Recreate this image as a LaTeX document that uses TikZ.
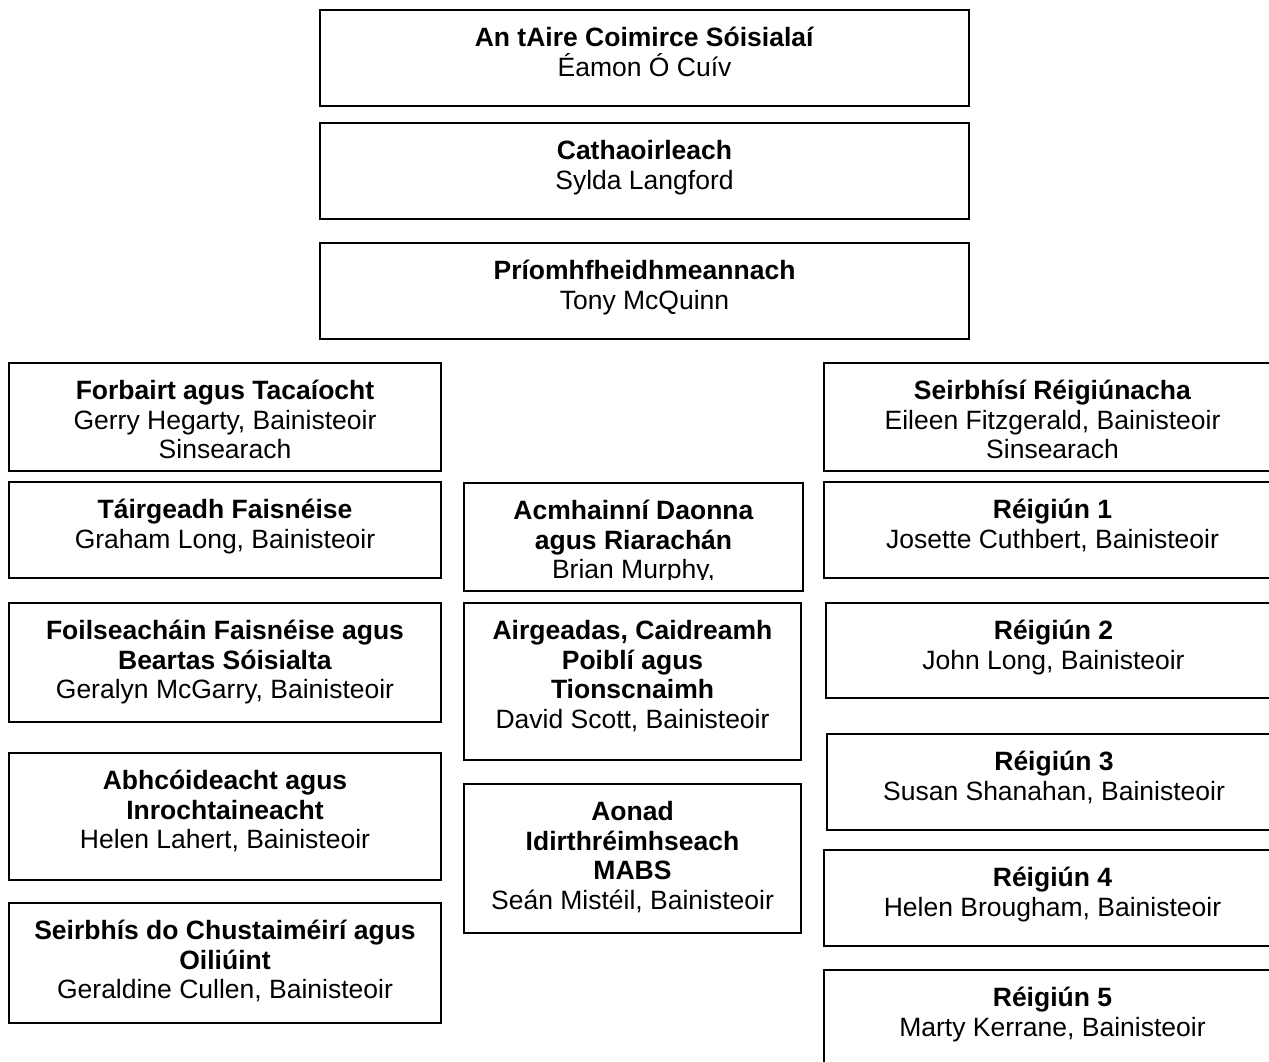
\documentclass[tikz,border=0pt]{standalone}
\usepackage{fontspec}
\setmainfont{Liberation Sans}
\newcommand{\otxfont}{\fontsize{26.5}{29.7}\selectfont\lineskiplimit=-100pt\relax\lineskip=0pt\relax}
\tikzset{
  obx/.style={draw, line width=1.6pt, inner sep=0pt, outer sep=0pt, rectangle},
  otx/.style={inner sep=0pt, outer sep=0pt, anchor=north, align=center,
    font=\otxfont}
}
\newcommand{\obox}[6]{%
  \node[obx, minimum width={(#4-#2)*1pt}, minimum height={(#5-#3)*1pt}] (#1) at ({(#2+#4)/2},{(#3+#5)/2}) {};
  \node[otx] (#1-t) at ([yshift=-15.7pt]#1.north) {#6};
}
\begin{document}
\begin{tikzpicture}[x=1pt,y=-1pt]
\fill[white] (0,0) rectangle (1269,1061);
\useasboundingbox (0,0) rectangle (1269,1061);
\clip (0,0) rectangle (1269,1061);
% top chain
\obox{aire}{320}{10}{969}{106}{\strut\textbf{An tAire Coimirce Sóisialaí}\\Éamon Ó Cuív}
\obox{cath}{320}{123}{969}{219}{\strut\textbf{Cathaoirleach}\\Sylda Langford}
\obox{prio}{320}{243}{969}{339}{\strut\textbf{Príomhfheidhmeannach}\\Tony McQuinn}
% left column
\obox{forb}{9}{363}{441}{471}{\strut\textbf{Forbairt agus Tacaíocht}\\Gerry Hegarty, Bainisteoir\\Sinsearach}
\obox{tair}{9}{482}{441}{578}{\strut\textbf{Táirgeadh Faisnéise}\\Graham Long, Bainisteoir}
\obox{foil}{9}{603}{441}{722}{\strut\textbf{Foilseacháin Faisnéise agus}\\\textbf{Beartas Sóisialta}\\Geralyn McGarry, Bainisteoir}
\obox{abhc}{9}{753}{441}{880}{\strut\textbf{Abhcóideacht agus}\\\textbf{Inrochtaineacht}\\Helen Lahert, Bainisteoir}
\obox{seir}{9}{903}{441}{1023}{\strut\textbf{Seirbhís do Chustaiméirí agus}\\\textbf{Oiliúint}\\Geraldine Cullen, Bainisteoir}
% middle column
\node[obx, minimum width=339pt, minimum height=108pt] (acmh) at ({(464+803)/2},{(483+591)/2}) {};
\begin{scope}
\clip (466,485) rectangle (801,579);
\node[otx] (acmh-t) at ([yshift=-15.7pt]acmh.north) {\strut\textbf{Acmhainní Daonna}\\\textbf{agus Riarachán}\\Brian Murphy,};
\end{scope}
\obox{airg}{464}{603}{801}{760}{\strut\textbf{Airgeadas, Caidreamh}\\\textbf{Poiblí agus}\\\textbf{Tionscnaimh}\\David Scott, Bainisteoir}
\obox{aona}{464}{784}{801}{933}{\strut\textbf{Aonad}\\\textbf{Idirthréimhseach}\\\textbf{MABS}\\Seán Mistéil, Bainisteoir}
% right column
\obox{reig}{824}{363}{1281}{471}{\strut\textbf{Seirbhísí Réigiúnacha}\\Eileen Fitzgerald, Bainisteoir\\Sinsearach}
\obox{r1}{824}{482}{1281}{578}{\strut\textbf{Réigiún 1}\\Josette Cuthbert, Bainisteoir}
\obox{r2}{826}{603}{1281}{698}{\strut\textbf{Réigiún 2}\\John Long, Bainisteoir}
\obox{r3}{827}{734}{1281}{830}{\strut\textbf{Réigiún 3}\\Susan Shanahan, Bainisteoir}
\obox{r4}{824}{850}{1281}{946}{\strut\textbf{Réigiún 4}\\Helen Brougham, Bainisteoir}
\obox{r5}{824}{970}{1281}{1090}{\strut\textbf{Réigiún 5}\\Marty Kerrane, Bainisteoir}
\end{tikzpicture}
\end{document}
